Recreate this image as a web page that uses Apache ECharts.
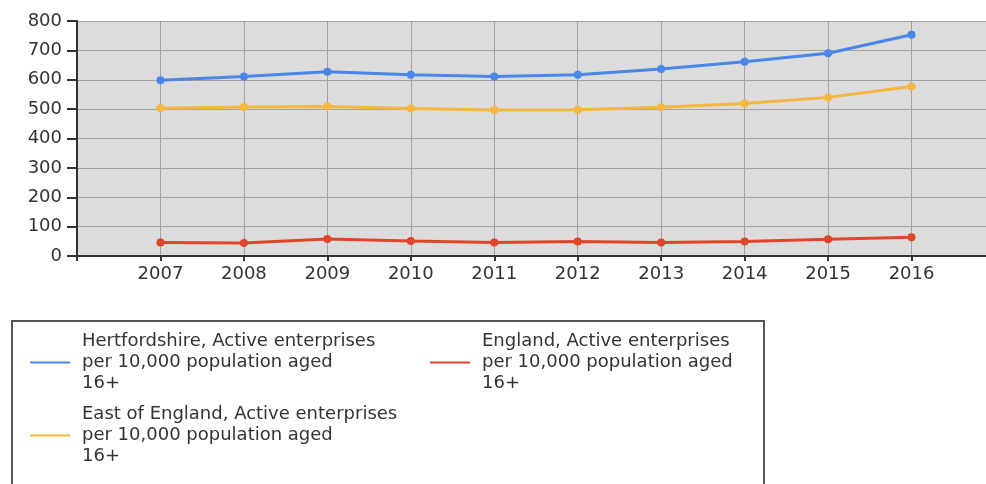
<!DOCTYPE html>
<html>
<head>
<meta charset="utf-8">
<script src="https://cdn.jsdelivr.net/npm/echarts@6/dist/echarts.min.js"></script>
<style>
html,body{margin:0;padding:0;background:#fff;}
#chart{width:986px;height:484px;}
</style>
</head>
<body>
<div id="chart"></div>
<script>
var years = [2007, 2008, 2009, 2010, 2011, 2012, 2013, 2014, 2015, 2016];
var hertfordshire = [598, 611, 627, 617, 611, 617, 637, 661, 690, 753];
var eastOfEngland = [503, 507, 509, 502, 497, 498, 506, 519, 540, 577];
var england = [46, 44, 58, 51, 46, 49, 46, 49, 57, 64];
var yTicks = [0, 100, 200, 300, 400, 500, 600, 700, 800];

var names = [
  'Hertfordshire, Active enterprises per 10,000 population aged 16+',
  'East of England, Active enterprises per 10,000 population aged 16+',
  'England, Active enterprises per 10,000 population aged 16+'
];
var colors = ['#4a86e8', '#f5b73d', '#e0452b'];
var values = [hertfordshire, eastOfEngland, england];

function pairs(arr) {
  return years.map(function (y, i) { return [y, arr[i]]; });
}

var font = 'DejaVu Sans';
var textColor = '#333333';

function legendFor(name, left, top) {
  return {
    data: [name],
    left: left,
    top: top,
    padding: 0,
    icon: 'rect',
    itemWidth: 40,
    itemHeight: 2,
    selectedMode: false,
    formatter: function (n) {
      return n.replace(' per 10,000', '\nper 10,000').replace(' 16+', '\n16+');
    },
    textStyle: {
      fontFamily: font,
      fontSize: 18,
      lineHeight: 21,
      color: textColor,
      padding: [0, 0, 0, 7]
    }
  };
}

var chart = echarts.init(document.getElementById('chart'), null, {renderer: 'canvas'});
chart.setOption({
  animation: false,
  backgroundColor: '#ffffff',
  grid: {
    left: 77,
    top: 21,
    width: 918,
    height: 235,
    outerBoundsMode: 'none',
    containLabel: false,
    show: true,
    backgroundColor: '#dcdcdc',
    borderWidth: 0
  },
  xAxis: {
    type: 'value',
    min: 2006,
    max: 2017,
    interval: 1,
    axisLine: {show: true, onZero: false, lineStyle: {color: '#333', width: 2}},
    axisTick: {show: true, length: 5, lineStyle: {color: '#333', width: 2}},
    axisLabel: {
      margin: 9,
      fontFamily: font,
      fontSize: 18,
      color: textColor,
      formatter: function (v) {
        return (v >= years[0] && v <= years[years.length - 1]) ? String(v) : '';
      }
    },
    splitLine: {show: true, lineStyle: {color: '#a2a2a2', width: 1}}
  },
  yAxis: {
    type: 'value',
    min: yTicks[0],
    max: yTicks[yTicks.length - 1],
    interval: yTicks[1] - yTicks[0],
    axisLine: {show: true, lineStyle: {color: '#333', width: 2}},
    axisTick: {show: true, length: 10, lineStyle: {color: '#333', width: 2}},
    axisLabel: {
      margin: 15,
      fontFamily: font,
      fontSize: 18,
      color: textColor
    },
    splitLine: {show: true, lineStyle: {color: '#a2a2a2', width: 1}}
  },
  legend: [
    legendFor(names[0], 30, 331),
    legendFor(names[1], 30, 404),
    legendFor(names[2], 430, 331)
  ],
  graphic: [{
    type: 'rect',
    shape: {x: 12, y: 321, width: 752, height: 200},
    style: {fill: 'none', stroke: '#555555', lineWidth: 2},
    silent: true,
    z: 10
  }],
  series: names.map(function (n, i) {
    return {
      name: n,
      type: 'line',
      data: pairs(values[i]),
      symbol: 'circle',
      symbolSize: 8,
      showSymbol: true,
      lineStyle: {color: colors[i], width: 3},
      itemStyle: {color: colors[i]},
      color: colors[i],
      z: 3 - i + 2
    };
  })
});
</script>
</body>
</html>
